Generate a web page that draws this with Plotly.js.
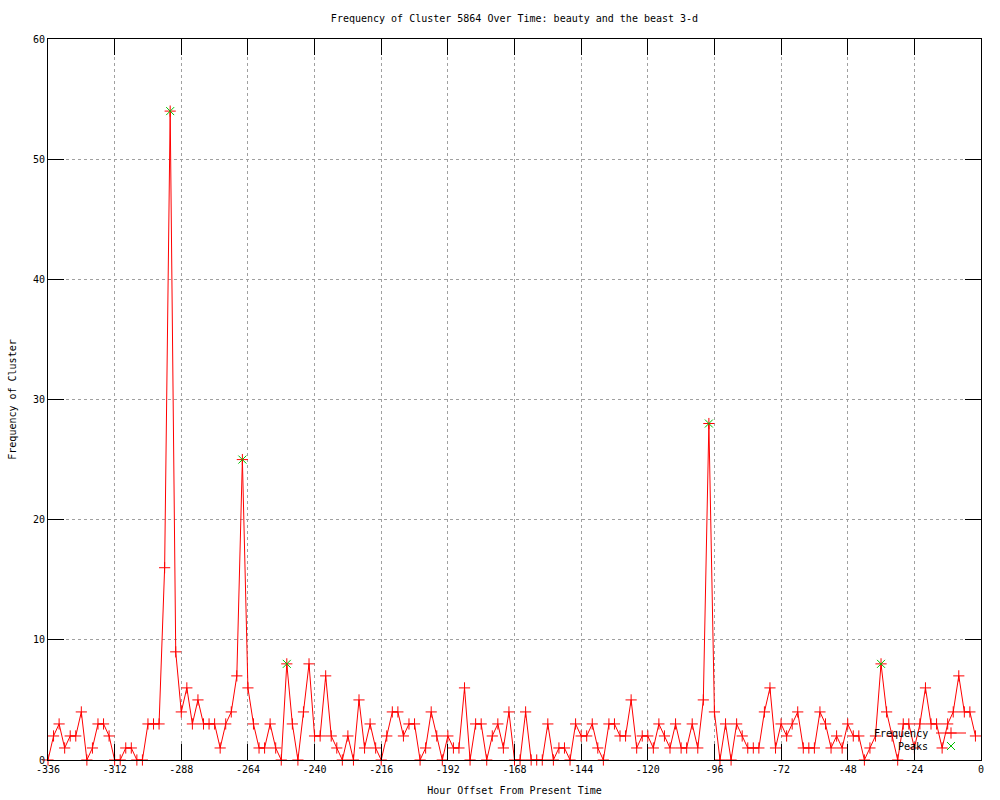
<!DOCTYPE html>
<html>
<head>
<meta charset="utf-8">
<script src="https://cdn.plot.ly/plotly-3.0.1.min.js"></script>
<style>html,body{margin:0;padding:0;background:#fff;}#chart{width:1000px;height:800px;}</style>
</head>
<body>
<div id="chart"></div>
<script>
var hours = [-336,-334,-332,-330,-328,-326,-324,-322,-320,-318,-316,-314,-312,-310,-308,-306,-304,-302,-300,-298,
  -296,-294,-292,-290,-288,-286,-284,-282,-280,-278,-276,-274,-272,-270,-268,-266,-264,-262,-260,-258,
  -256,-254,-252,-250,-248,-246,-244,-242,-240,-238,-236,-234,-232,-230,-228,-226,-224,-222,-220,-218,
  -216,-214,-212,-210,-208,-206,-204,-202,-200,-198,-196,-194,-192,-190,-188,-186,-184,-182,-180,-178,
  -176,-174,-172,-170,-168,-166,-164,-162,-160,-158,-156,-154,-152,-150,-148,-146,-144,-142,-140,-138,
  -136,-134,-132,-130,-128,-126,-124,-122,-120,-118,-116,-114,-112,-110,-108,-106,-104,-102,-100,-98,
  -96,-94,-92,-90,-88,-86,-84,-82,-80,-78,-76,-74,-72,-70,-68,-66,-64,-62,-60,-58,
  -56,-54,-52,-50,-48,-46,-44,-42,-40,-38,-36,-34,-32,-30,-28,-26,-24,-22,-20,-18,
  -16,-14,-12,-10,-8,-6,-4,-2];
var frequency = [0,2,3,1,2,2,4,0,1,3,3,2,0,0,1,1,0,0,3,3,
  3,16,54,9,4,6,3,5,3,3,3,1,3,4,7,25,6,3,1,1,
  3,1,0,8,3,0,4,8,2,2,7,2,1,0,2,0,5,1,3,1,
  0,2,4,4,2,3,3,0,1,4,2,0,2,1,1,6,0,3,3,0,
  2,3,1,4,0,0,4,0,0,0,3,0,1,1,0,3,2,2,3,1,
  0,3,3,2,2,5,1,2,2,1,3,2,1,3,1,1,3,1,5,28,
  4,0,3,0,3,2,1,1,1,4,6,1,3,2,3,4,1,1,1,4,
  3,1,2,1,3,2,2,0,1,2,8,4,2,0,3,3,1,3,6,3,
  3,1,3,4,7,4,4,2];
var peakHours = [-292, -266, -250, -98, -36];
var peakValues = [54, 25, 8, 28, 8];
var xTicks = [-336,-312,-288,-264,-240,-216,-192,-168,-144,-120,-96,-72,-48,-24,0];
var yTicks = [0,10,20,30,40,50,60];
var seriesNames = ['Frequency', 'Peaks'];

var FONT = "'DejaVu Sans Mono', 'Liberation Mono', monospace";

var traces = [
  {
    x: hours, y: frequency, type: 'scatter', mode: 'lines+markers', name: ' ',
    legend: 'legend',
    line: {color: '#ff0000', width: 1},
    marker: {symbol: 'cross-thin', size: 8, color: '#ff0000', line: {color: '#ff0000', width: 1}},
    cliponaxis: false
  },
  {
    x: peakHours, y: peakValues, type: 'scatter', mode: 'markers', name: ' ',
    legend: 'legend2',
    marker: {symbol: 'x-thin', size: 8, color: '#00c000', line: {color: '#00c000', width: 1}},
    cliponaxis: false
  }
];

var axisCommon = {
  showline: true, linecolor: '#000', linewidth: 1, mirror: 'ticks',
  ticks: 'inside', ticklen: 16, tickcolor: '#000', tickwidth: 1,
  showgrid: true, gridcolor: '#a0a0a0', gridwidth: 1, griddash: 'dot',
  zeroline: false, tickfont: {family: FONT, size: 10, color: '#000'}
};

var legendCommon = {
  xanchor: 'left', x: (931 - 48) / 933, yanchor: 'middle',
  bgcolor: 'rgba(0,0,0,0)', borderwidth: 0,
  font: {family: FONT, size: 10, color: '#000'}
};

var layout = {
  width: 1000, height: 800,
  paper_bgcolor: '#fff', plot_bgcolor: '#fff',
  margin: {l: 48, r: 19, t: 39, b: 40},
  font: {family: FONT, size: 10, color: '#000'},
  title: {text: 'Frequency of Cluster 5864 Over Time: beauty and the beast 3-d',
    font: {family: FONT, size: 10, color: '#000'},
    x: 0.5, xref: 'paper', xanchor: 'center', y: 1 - 18/800, yanchor: 'middle'},
  xaxis: Object.assign({}, axisCommon, {
    range: [-336, 0], tickmode: 'array', tickvals: xTicks, ticktext: xTicks.map(String),
    title: {text: 'Hour Offset From Present Time', font: {family: FONT, size: 10, color: '#000'}, standoff: 12}
  }),
  yaxis: Object.assign({}, axisCommon, {
    range: [0, 60], tickmode: 'array', tickvals: yTicks, ticktext: yTicks.map(String),
    title: {text: 'Frequency of Cluster', font: {family: FONT, size: 10, color: '#000'}, standoff: 14}
  }),
  showlegend: true,
  legend: Object.assign({}, legendCommon, {y: (760 - 733) / 721}),
  legend2: Object.assign({}, legendCommon, {y: (760 - 746) / 721}),
  annotations: [
    {text: seriesNames[0], xref: 'paper', yref: 'paper', x: (930 - 48) / 933, y: (760 - 733) / 721,
     xanchor: 'right', yanchor: 'middle', showarrow: false, font: {family: FONT, size: 10, color: '#000'}},
    {text: seriesNames[1], xref: 'paper', yref: 'paper', x: (930 - 48) / 933, y: (760 - 746) / 721,
     xanchor: 'right', yanchor: 'middle', showarrow: false, font: {family: FONT, size: 10, color: '#000'}}
  ]
};

Plotly.newPlot('chart', traces, layout, {displayModeBar: false, staticPlot: true});
</script>
</body>
</html>
